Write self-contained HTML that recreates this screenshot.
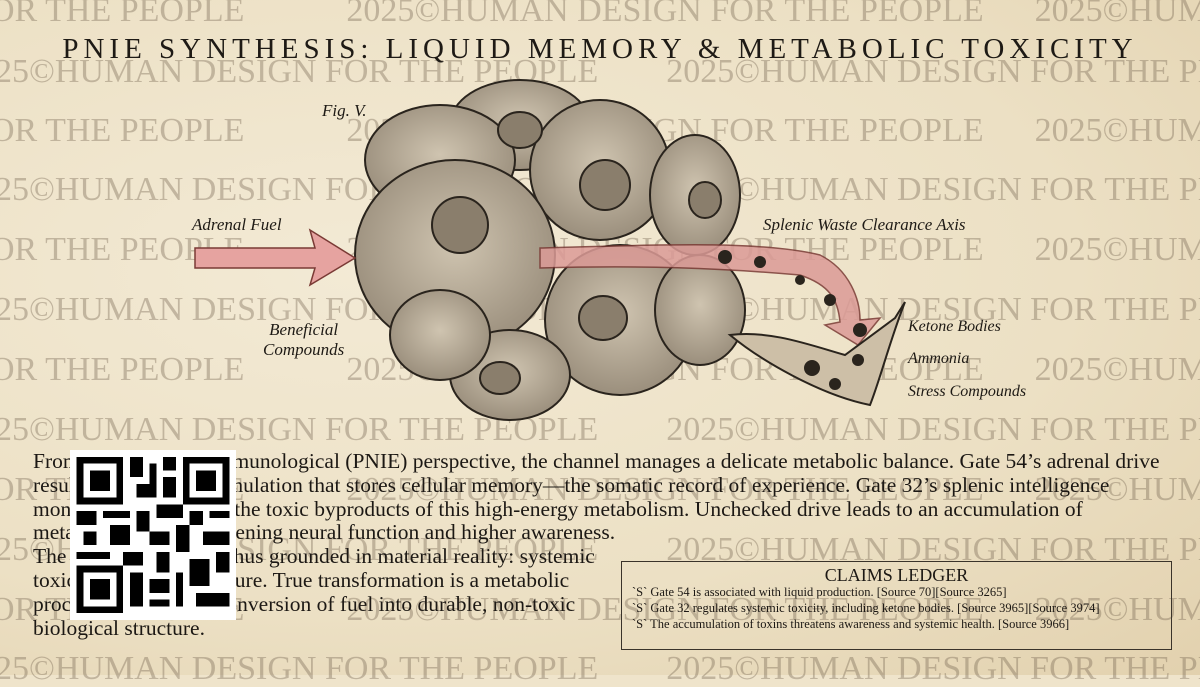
<!DOCTYPE html>
<html><head><meta charset="utf-8"><style>
html,body{margin:0;padding:0}
body{width:1200px;height:675px;overflow:hidden;position:relative;background:#efe4cb;font-family:"Liberation Serif",serif}
.bg{position:absolute;inset:0;background:radial-gradient(ellipse at 30% 40%,#f3ead5 0%,#ece0c4 60%,#e2d1ae 100%)}
.wm{position:absolute;left:0;white-space:nowrap;font-size:34px;color:rgba(110,95,75,.36);line-height:1}
.title{position:absolute;top:33px;left:0;width:1200px;text-align:center;font-size:29px;letter-spacing:5px;color:#1e1a15;white-space:nowrap}
.lbl{position:absolute;font-style:italic;font-size:17px;color:#1e1a15}
.body{position:absolute;left:33px;top:450px;width:1160px;font-size:21.5px;line-height:23.8px;color:#1c1814;white-space:nowrap}
.qr{position:absolute;left:70px;top:450px;width:166px;height:170px;background:#fff}
.ledger{position:absolute;left:621px;top:561px;width:551px;height:89px;border:1.5px solid #3a332a;font-size:12.5px;color:#1c1814;line-height:16px;box-sizing:border-box;padding:0 10px;white-space:nowrap}
.ledger h3{margin:5px 0 1px;text-align:center;font-weight:normal;font-size:18px}
</style></head><body>
<div class="bg"></div>
<div class="wm" style="top:-6px;left:-10px">OR THE PEOPLE&nbsp;&nbsp;&nbsp;&nbsp;&nbsp;&nbsp;&nbsp;&nbsp;&nbsp;&nbsp;&nbsp;&nbsp;2025©HUMAN DESIGN FOR THE PEOPLE&nbsp;&nbsp;&nbsp;&nbsp;&nbsp;&nbsp;2025©HUMAN DESIGN</div>
<div class="wm" style="top:55px;left:-5px">25©HUMAN DESIGN FOR THE PEOPLE&nbsp;&nbsp;&nbsp;&nbsp;&nbsp;&nbsp;&nbsp;&nbsp;2025©HUMAN DESIGN FOR THE PEOPLE</div>
<div class="wm" style="top:114px;left:-10px">OR THE PEOPLE&nbsp;&nbsp;&nbsp;&nbsp;&nbsp;&nbsp;&nbsp;&nbsp;&nbsp;&nbsp;&nbsp;&nbsp;2025©HUMAN DESIGN FOR THE PEOPLE&nbsp;&nbsp;&nbsp;&nbsp;&nbsp;&nbsp;2025©HUMAN DESIGN</div>
<div class="wm" style="top:173px;left:-5px">25©HUMAN DESIGN FOR THE PEOPLE&nbsp;&nbsp;&nbsp;&nbsp;&nbsp;&nbsp;&nbsp;&nbsp;2025©HUMAN DESIGN FOR THE PEOPLE</div>
<div class="wm" style="top:233px;left:-10px">OR THE PEOPLE&nbsp;&nbsp;&nbsp;&nbsp;&nbsp;&nbsp;&nbsp;&nbsp;&nbsp;&nbsp;&nbsp;&nbsp;2025©HUMAN DESIGN FOR THE PEOPLE&nbsp;&nbsp;&nbsp;&nbsp;&nbsp;&nbsp;2025©HUMAN DESIGN</div>
<div class="wm" style="top:293px;left:-5px">25©HUMAN DESIGN FOR THE PEOPLE&nbsp;&nbsp;&nbsp;&nbsp;&nbsp;&nbsp;&nbsp;&nbsp;2025©HUMAN DESIGN FOR THE PEOPLE</div>
<div class="wm" style="top:353px;left:-10px">OR THE PEOPLE&nbsp;&nbsp;&nbsp;&nbsp;&nbsp;&nbsp;&nbsp;&nbsp;&nbsp;&nbsp;&nbsp;&nbsp;2025©HUMAN DESIGN FOR THE PEOPLE&nbsp;&nbsp;&nbsp;&nbsp;&nbsp;&nbsp;2025©HUMAN DESIGN</div>
<div class="wm" style="top:413px;left:-5px">25©HUMAN DESIGN FOR THE PEOPLE&nbsp;&nbsp;&nbsp;&nbsp;&nbsp;&nbsp;&nbsp;&nbsp;2025©HUMAN DESIGN FOR THE PEOPLE</div>
<div class="wm" style="top:473px;left:-10px">OR THE PEOPLE&nbsp;&nbsp;&nbsp;&nbsp;&nbsp;&nbsp;&nbsp;&nbsp;&nbsp;&nbsp;&nbsp;&nbsp;2025©HUMAN DESIGN FOR THE PEOPLE&nbsp;&nbsp;&nbsp;&nbsp;&nbsp;&nbsp;2025©HUMAN DESIGN</div>
<div class="wm" style="top:533px;left:-5px">25©HUMAN DESIGN FOR THE PEOPLE&nbsp;&nbsp;&nbsp;&nbsp;&nbsp;&nbsp;&nbsp;&nbsp;2025©HUMAN DESIGN FOR THE PEOPLE</div>
<div class="wm" style="top:593px;left:-10px">OR THE PEOPLE&nbsp;&nbsp;&nbsp;&nbsp;&nbsp;&nbsp;&nbsp;&nbsp;&nbsp;&nbsp;&nbsp;&nbsp;2025©HUMAN DESIGN FOR THE PEOPLE&nbsp;&nbsp;&nbsp;&nbsp;&nbsp;&nbsp;2025©HUMAN DESIGN</div>
<div class="wm" style="top:652px;left:-5px">25©HUMAN DESIGN FOR THE PEOPLE&nbsp;&nbsp;&nbsp;&nbsp;&nbsp;&nbsp;&nbsp;&nbsp;2025©HUMAN DESIGN FOR THE PEOPLE</div>

<div class="title">PNIE SYNTHESIS: LIQUID MEMORY &amp; METABOLIC TOXICITY</div>

<svg style="position:absolute;left:0;top:0" width="1200" height="675">
<defs><radialGradient id="c" cx="50%" cy="45%" r="60%"><stop offset="0" stop-color="#cfc4b0"/><stop offset="1" stop-color="#968a78"/></radialGradient></defs>
<g stroke="#2a241d" stroke-width="2" fill="url(#c)">
<ellipse cx="520" cy="125" rx="70" ry="45"/>
<ellipse cx="440" cy="160" rx="75" ry="55"/>
<ellipse cx="600" cy="170" rx="70" ry="70"/>
<ellipse cx="695" cy="195" rx="45" ry="60"/>
<ellipse cx="455" cy="255" rx="100" ry="95"/>
<ellipse cx="620" cy="320" rx="75" ry="75"/>
<ellipse cx="700" cy="310" rx="45" ry="55"/>
<ellipse cx="510" cy="375" rx="60" ry="45"/>
<ellipse cx="440" cy="335" rx="50" ry="45"/>
</g>
<g fill="#8a7e6c" stroke="#2a241d" stroke-width="2">
<ellipse cx="520" cy="130" rx="22" ry="18"/>
<ellipse cx="605" cy="185" rx="25" ry="25"/>
<ellipse cx="460" cy="225" rx="28" ry="28"/>
<ellipse cx="603" cy="318" rx="24" ry="22"/>
<ellipse cx="500" cy="378" rx="20" ry="16"/>
<ellipse cx="705" cy="200" rx="16" ry="18"/>
</g>
<path d="M195 248 L315 248 L310 230 L355 258 L310 285 L315 268 L195 268Z" fill="#e6a3a0" stroke="#7a3a35" stroke-width="1.5"/>
<path d="M540 248 C650 245 760 240 820 255 C850 270 860 300 860 320 L880 318 L858 345 L825 325 L840 322 C838 300 830 285 800 275 C720 268 640 265 540 268Z" fill="#dc9b97" opacity=".85" stroke="#7a3a35" stroke-width="1.5"/>
<path d="M730 335 C770 330 810 345 845 355 L895 318 L905 302 C890 340 880 380 870 405 C820 395 760 360 730 335Z" fill="#cdbfa7" stroke="#2a241d" stroke-width="2"/>
<g fill="#2a241d"><circle cx="725" cy="257" r="7"/><circle cx="760" cy="262" r="6"/><circle cx="800" cy="280" r="5"/><circle cx="830" cy="300" r="6"/><circle cx="860" cy="330" r="7"/><circle cx="812" cy="368" r="8"/><circle cx="858" cy="360" r="6"/><circle cx="835" cy="384" r="6"/></g>
</svg>
<div class="lbl" style="left:322px;top:101px">Fig. V.</div>
<div class="lbl" style="left:192px;top:215px">Adrenal Fuel</div>
<div class="lbl" style="left:763px;top:215px">Splenic Waste Clearance Axis</div>
<div class="lbl" style="left:263px;top:320px;text-align:center;line-height:20px">Beneficial<br>Compounds</div>
<div class="lbl" style="left:908px;top:318px;font-size:16px">Ketone Bodies</div>
<div class="lbl" style="left:908px;top:350px;font-size:16px">Ammonia</div>
<div class="lbl" style="left:908px;top:383px;font-size:16px">Stress Compounds</div>

<div class="body">From a psychoneuroimmunological (PNIE) perspective, the channel manages a delicate metabolic balance. Gate 54’s adrenal drive<br>results in a liquid accumulation that stores cellular memory—the somatic record of experience. Gate 32’s splenic intelligence<br>monitors and regulates the toxic byproducts of this high-energy metabolism. Unchecked drive leads to an accumulation of<br>metabolic toxins, threatening neural function and higher awareness.<br>The channel’s drive is thus grounded in material reality: systemic<br>toxicity threatens structure. True transformation is a metabolic<br>process—the refined conversion of fuel into durable, non-toxic<br>biological structure.</div>
<div class="qr"><svg width="166" height="170" viewBox="0 0 25 25" preserveAspectRatio="none" shape-rendering="crispEdges">
<g fill="#000"><path d="M1 1h7v7h-7zM17 1h7v7h-7zM1 17h7v7h-7z"/></g>
<g fill="#fff"><path d="M2 2h5v5h-5zM18 2h5v5h-5zM2 18h5v5h-5z"/></g>
<g fill="#000"><path d="M3 3h3v3h-3zM19 3h3v3h-3zM3 19h3v3h-3z"/>
<path d="M9 1h2v3h-2zM12 2h1v4h-1zM14 1h2v2h-2zM10 5h3v2h-3zM14 4h2v3h-2zM1 9h3v2h-3zM5 9h4v1h-4zM10 9h2v3h-2zM13 8h4v2h-4zM18 9h2v2h-2zM21 9h3v1h-3zM2 12h2v2h-2zM6 11h3v3h-3zM12 12h3v2h-3zM16 11h2v4h-2zM20 12h4v2h-4zM1 15h5v1h-5zM8 15h3v2h-3zM13 15h2v3h-2zM18 16h3v4h-3zM22 15h2v3h-2zM9 18h2v5h-2zM12 19h3v2h-3zM16 18h1v5h-1zM19 21h5v2h-5zM12 22h3v1h-3z"/></g></svg></div>

<div class="ledger"><h3>CLAIMS LEDGER</h3>
`S` Gate 54 is associated with liquid production. [Source 70][Source 3265]<br>
`S` Gate 32 regulates systemic toxicity, including ketone bodies. [Source 3965][Source 3974]<br>
`S` The accumulation of toxins threatens awareness and systemic health. [Source 3966]</div>
</body></html>
